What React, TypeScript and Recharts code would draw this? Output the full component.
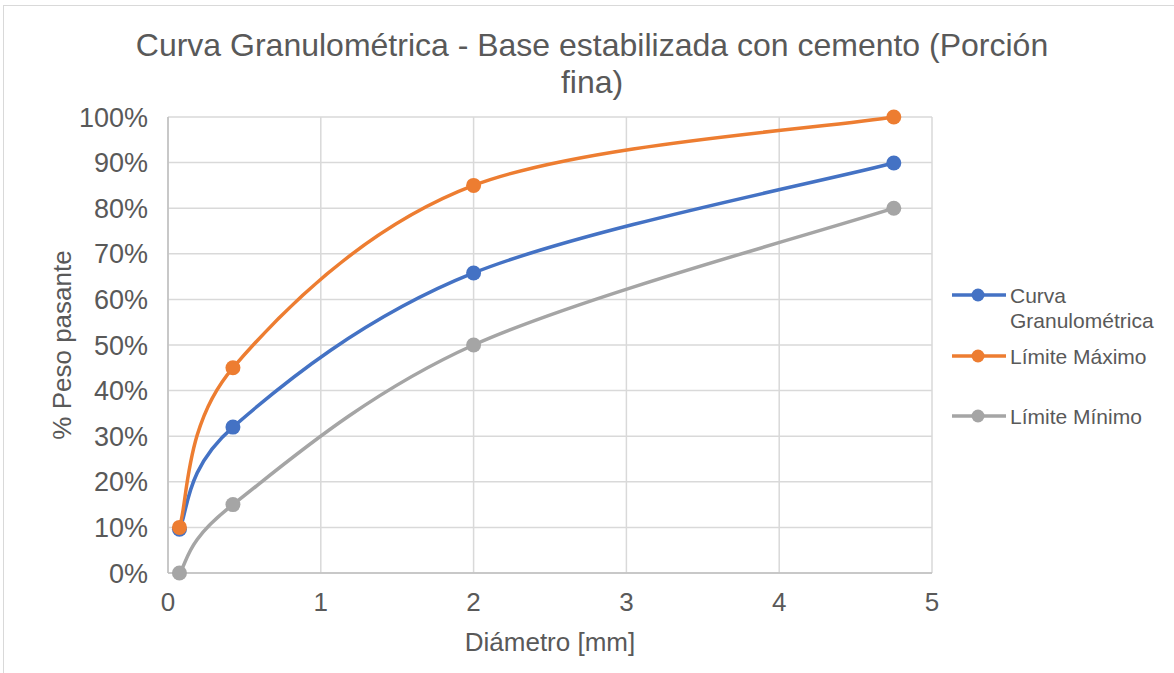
import React from 'react';
import { LineChart, Line, XAxis, YAxis, CartesianGrid } from 'recharts';

const diameters = [0.075, 0.425, 2, 4.75];
const curvaValues = [0.096, 0.32, 0.658, 0.899];
const maxValues = [0.1, 0.45, 0.85, 1.0];
const minValues = [0.0, 0.15, 0.5, 0.8];
const xTicks = [0, 1, 2, 3, 4, 5];
const yTicks = [0, 0.1, 0.2, 0.3, 0.4, 0.5, 0.6, 0.7, 0.8, 0.9, 1.0];
const seriesNames = ['Curva Granulométrica', 'Límite Máximo', 'Límite Mínimo'];
const seriesColors = ['#4472C4', '#ED7D31', '#A5A5A5'];
const titleLines = ['Curva Granulométrica - Base estabilizada con cemento (Porción', 'fina)'];

const data = diameters.map((d, i) => ({
  d,
  curva: curvaValues[i],
  max: maxValues[i],
  min: minValues[i],
}));

// Catmull-Rom style smoothing (similar to Excel smoothed lines)
function smoothCurve(context: any) {
  let pts: [number, number][] = [];
  return {
    areaStart() {},
    areaEnd() {},
    lineStart() {
      pts = [];
    },
    point(x: number, y: number) {
      pts.push([+x, +y]);
    },
    lineEnd() {
      if (!pts.length) return;
      context.moveTo(pts[0][0], pts[0][1]);
      for (let i = 0; i < pts.length - 1; i++) {
        const p0 = pts[i - 1] || pts[i];
        const p1 = pts[i];
        const p2 = pts[i + 1];
        const p3 = pts[i + 2] || pts[i + 1];
        const c1x = p1[0] + (p2[0] - p0[0]) / 6;
        const c1y = p1[1] + (p2[1] - p0[1]) / 6;
        const c2x = p2[0] - (p3[0] - p1[0]) / 6;
        const c2y = p2[1] - (p3[1] - p1[1]) / 6;
        context.bezierCurveTo(c1x, c1y, c2x, c2y, p2[0], p2[1]);
      }
    },
  };
}

const FONT = '"Liberation Sans", Arial, sans-serif';
const TEXT = '#595959';

export default function App() {
  const keys = ['curva', 'max', 'min'];
  const legendY = [295, 356, 416];
  return (
    <div style={{ position: 'absolute', left: 0, top: 0, width: 1174, height: 673, background: '#fff', fontFamily: FONT }}>
      <div style={{ position: 'absolute', left: 3, top: 5, width: 1180, height: 700, border: '1.5px solid #D9D9D9', boxSizing: 'border-box' }} />
      <LineChart width={1174} height={673} data={data} margin={{ top: 117, right: 242, bottom: 0, left: 0 }}>
        <CartesianGrid stroke="#D9D9D9" strokeWidth={1.5} />
        <XAxis
          dataKey="d"
          type="number"
          domain={[0, 5]}
          ticks={xTicks}
          height={100}
          tickSize={0}
          tickMargin={20}
          axisLine={{ stroke: '#BFBFBF', strokeWidth: 1.5 }}
          tick={{ fill: TEXT, fontSize: 26, fontFamily: FONT }}
          label={{ value: 'Diámetro [mm]', position: 'center', dy: 19, fill: TEXT, fontSize: 26, fontFamily: FONT }}
        />
        <YAxis
          type="number"
          domain={[0, 1]}
          ticks={yTicks}
          width={168}
          tickSize={0}
          tickMargin={20}
          axisLine={{ stroke: '#BFBFBF', strokeWidth: 1.5 }}
          tickFormatter={(v: number) => `${Math.round(v * 100)}%`}
          tick={{ fill: TEXT, fontSize: 27, fontFamily: FONT }}
          label={{ value: '% Peso pasante', angle: -90, position: 'center', dx: -22, fill: TEXT, fontSize: 26, fontFamily: FONT }}
        />
        {keys.map((k, i) => (
          <Line
            key={k}
            dataKey={k}
            name={seriesNames[i]}
            type={smoothCurve as any}
            stroke={seriesColors[i]}
            strokeWidth={3.5}
            dot={{ r: 7.5, fill: seriesColors[i], stroke: seriesColors[i], strokeWidth: 0 }}
            activeDot={false}
            isAnimationActive={false}
          />
        ))}
      </LineChart>
      <div style={{ position: 'absolute', left: 0, top: 27, width: 1184, textAlign: 'center', color: TEXT, fontSize: 32, lineHeight: '37px' }}>
        {titleLines.map((t, i) => (
          <div key={i}>{t}</div>
        ))}
      </div>
      {seriesNames.map((n, i) => (
        <div key={n} style={{ position: 'absolute', left: 952, top: legendY[i] - 12, height: 24 }}>
          <svg width={56} height={24} style={{ position: 'absolute', left: 0, top: 0 }}>
            <line x1={0} y1={12} x2={54} y2={12} stroke={seriesColors[i]} strokeWidth={3.5} />
            <circle cx={26} cy={12} r={6.5} fill={seriesColors[i]} />
          </svg>
          <div style={{ position: 'absolute', left: 58, top: 0, width: 180, color: TEXT, fontSize: 21, lineHeight: '25px' }}>
            {i === 0 ? (
              <>
                Curva
                <br />
                Granulométrica
              </>
            ) : (
              n
            )}
          </div>
        </div>
      ))}
    </div>
  );
}
